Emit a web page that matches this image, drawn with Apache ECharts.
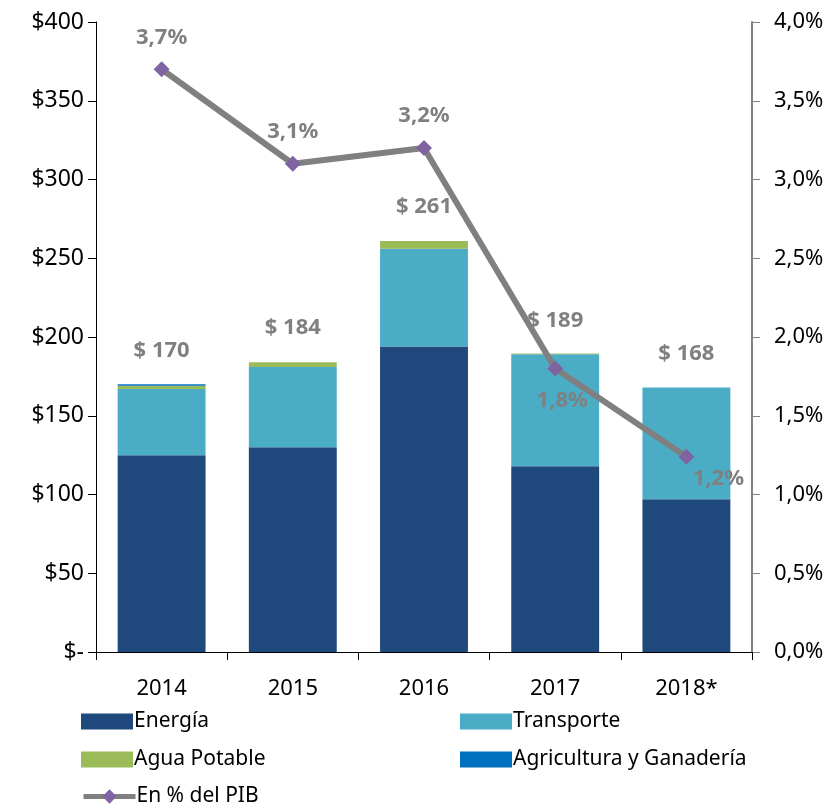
<!DOCTYPE html>
<html>
<head>
<meta charset="utf-8">
<script src="https://cdn.jsdelivr.net/npm/echarts@6/dist/echarts.min.js"></script>
<style>
  html, body { margin: 0; padding: 0; background: #fff; }
  #chart { width: 835px; height: 808px; }
</style>
</head>
<body>
<div id="chart"></div>
<script>
const years = ['2014', '2015', '2016', '2017', '2018*']
const energia = [125, 130, 194, 118, 97]
const transporte = [42, 51, 62, 71, 71]
const agua = [2, 3, 5, 0.5, 0]
const agricultura = [1, 0, 0, 0, 0]
const totales = [170, 184, 261, 189, 168]
const pib = [3.7, 3.1, 3.2, 1.8, 1.24]

const font = 'Noto Sans'
const gray = '#808080'

// etiquetas del % PIB, algunas van abajo
const pibData = pib.map((v, i) => {
  if (i === 3) return { value: v, label: { position: 'bottom', distance: 5, offset: [7, 8] } }
  if (i === 4) return { value: v, label: { position: 'bottom', distance: 5, offset: [32, -2] } }
  return v
})

const legendBase = {
  itemWidth: 52,
  itemHeight: 16,
  itemGap: 0,
  icon: 'rect',
  textStyle: { fontFamily: font, fontSize: 21, color: '#000', padding: [0, 0, 0, -4] },
  selectedMode: false
}

const option = {
  animation: false,
  grid: { left: 96, right: 83, top: 22, bottom: 156 },
  legend: [
    { ...legendBase, data: ['Energía'], left: 76, top: 706 },
    { ...legendBase, data: ['Transporte'], left: 455, top: 706 },
    { ...legendBase, data: ['Agua Potable'], left: 76, top: 744 },
    { ...legendBase, data: ['Agricultura y Ganadería'], left: 455, top: 744 },
    {
      ...legendBase, icon: null, data: ['En % del PIB'], left: 76, top: 781,
      itemHeight: 18, lineStyle: { width: 5 }
    }
  ],
  xAxis: {
    type: 'category',
    data: years,
    axisLine: { lineStyle: { color: '#000', width: 1 } },
    axisTick: { show: true, length: 8, lineStyle: { color: '#000' } },
    axisLabel: { fontFamily: font, fontSize: 22, color: '#000', margin: 26 }
  },
  yAxis: [
    {
      type: 'value',
      min: 0,
      max: 400,
      interval: 50,
      splitLine: { show: false },
      axisLine: { show: true, lineStyle: { color: '#000' } },
      axisTick: { show: true, length: 8, lineStyle: { color: '#000' } },
      axisLabel: {
        fontFamily: font, fontSize: 23, color: '#000', margin: 12,
        formatter: v => v === 0 ? '$-' : '$' + v
      }
    },
    {
      type: 'value',
      min: 0,
      max: 4,
      interval: 0.5,
      position: 'right',
      splitLine: { show: false },
      axisLine: { show: true, lineStyle: { color: gray, width: 2 } },
      axisTick: { show: true, length: 8, lineStyle: { color: gray } },
      axisLabel: {
        fontFamily: font, fontSize: 22, color: '#000', margin: 22,
        formatter: v => v.toFixed(1).replace('.', ',') + '%'
      }
    }
  ],
  series: [
    {
      name: 'Energía', type: 'bar', stack: 'tot', data: energia,
      barCategoryGap: '33%', itemStyle: { color: '#1F497D' }
    },
    { name: 'Transporte', type: 'bar', stack: 'tot', data: transporte, itemStyle: { color: '#4BACC6' } },
    { name: 'Agua Potable', type: 'bar', stack: 'tot', data: agua, itemStyle: { color: '#9BBB59' } },
    { name: 'Agricultura y Ganadería', type: 'bar', stack: 'tot', data: agricultura, itemStyle: { color: '#0070C0' } },
    {
      name: 'Total', type: 'line', data: totales, silent: true,
      symbol: 'circle', symbolSize: 0,
      lineStyle: { width: 0, opacity: 0 },
      label: {
        show: true, position: 'top', distance: 23,
        fontFamily: font, fontSize: 22, fontWeight: 'bold', color: gray,
        formatter: p => '$ ' + p.value
      }
    },
    {
      name: 'En % del PIB', type: 'line', yAxisIndex: 1, data: pibData,
      symbol: 'diamond', symbolSize: 16,
      lineStyle: { color: gray, width: 6 },
      itemStyle: { color: '#8064A2' },
      label: {
        show: true, position: 'top', distance: 13,
        fontFamily: font, fontSize: 22, fontWeight: 'bold', color: gray,
        formatter: p => p.value.toFixed(1).replace('.', ',') + '%'
      },
      z: 5
    }
  ]
}

const myChart = echarts.init(document.getElementById('chart'))
myChart.setOption(option)
</script>
</body>
</html>
